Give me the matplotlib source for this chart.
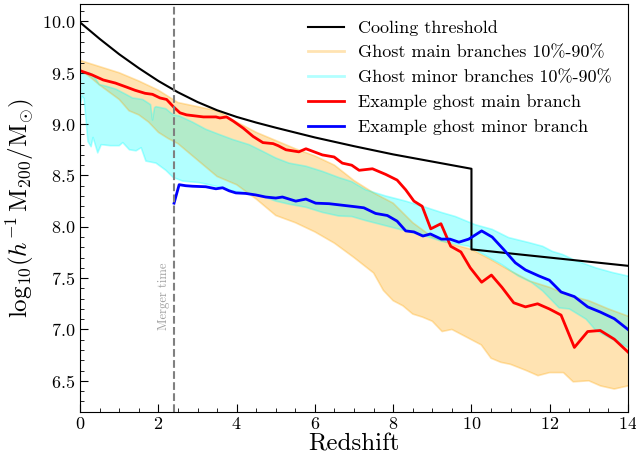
import matplotlib
matplotlib.use("Agg")
import matplotlib.pyplot as plt
from matplotlib.lines import Line2D
import numpy as np

plt.rcParams['font.family'] = 'serif'
plt.rcParams['font.serif'] = ['cmr10', 'DejaVu Serif']
plt.rcParams['mathtext.fontset'] = 'cm'
plt.rcParams['axes.formatter.use_mathtext'] = True

# --- DATA ---
# cooling threshold
z_cool = [0, 0.5, 1.0, 1.5, 2.0, 2.5, 3.0, 3.5, 4.0, 4.5, 5.0, 6.0, 7.0, 8.0, 9.0, 10.0, 10.0, 14.0]
m_cool = [9.99, 9.83, 9.68, 9.545, 9.42, 9.31, 9.215, 9.135, 9.07, 9.015, 8.965, 8.87, 8.785, 8.705, 8.635, 8.565, 7.78, 7.62]

# ghost main branches, 90% (upper) and 10% (lower)
z_main_hi = [0, 0.5, 1.0, 1.5, 2.0, 2.5, 3.0, 3.5, 4.0, 4.5, 5.0, 5.5, 6.0, 6.5, 7.0, 7.5,
             8.0, 8.5, 9.0, 9.5, 10.0, 10.5, 11.0, 11.5, 12.0, 12.5, 13.0, 13.5, 14.0]
m_main_hi = [9.62, 9.56, 9.50, 9.42, 9.33, 9.21, 9.17, 9.13, 9.02, 8.92, 8.84, 8.76, 8.69, 8.60, 8.45, 8.33,
             8.23, 8.04, 7.90, 7.83, 7.78, 7.68, 7.57, 7.47, 7.41, 7.33, 7.28, 7.20, 7.13]
z_main_lo = [0, 0.25, 0.5, 0.75, 1.0, 1.25, 1.5, 1.75, 2.0, 2.25, 2.5, 2.75, 3.0, 3.25, 3.5, 3.75, 4.0,
             4.5, 5.0, 5.5, 6.0, 6.5, 7.0, 7.5, 7.75, 8.0, 8.25, 8.5, 8.75, 9.0, 9.25, 9.5, 9.75, 10.0,
             10.25, 10.5, 10.75, 11.0, 11.4, 11.7, 12.0, 12.35, 12.6, 13.0, 13.3, 13.65, 14.0]
m_main_lo = [9.53, 9.46, 9.38, 9.31, 9.24, 9.13, 9.09, 9.02, 8.92, 8.86, 8.81, 8.73, 8.65, 8.57, 8.49, 8.45, 8.41,
             8.27, 8.11, 8.04, 7.95, 7.84, 7.70, 7.55, 7.38, 7.28, 7.23, 7.15, 7.12, 7.08, 6.98, 7.00, 6.95, 6.90,
             6.85, 6.72, 6.68, 6.66, 6.60, 6.55, 6.58, 6.58, 6.49, 6.50, 6.45, 6.42, 6.45]

# ghost minor branches, 90% (upper) and 10% (lower)
z_minor_hi = [0, 0.24, 0.35, 0.49, 0.66, 0.92, 1.17, 1.34, 1.6, 1.8, 1.85, 1.9, 1.94, 2.19, 2.38, 2.53, 2.87,
              3.21, 3.55, 3.9, 4.32, 4.64, 5.0, 5.34, 5.77, 6.19, 6.61, 6.94, 7.3, 7.81, 8.32, 8.83, 9.23,
              9.59, 10.1, 10.53, 10.95, 11.48, 11.82, 12.07, 12.33, 12.67, 13.18, 13.6, 14.0]
m_minor_hi = [9.50, 9.50, 9.47, 9.385, 9.37, 9.34, 9.29, 9.255, 9.24, 9.19, 9.04, 9.16, 9.17, 9.15, 9.09, 9.08, 9.02,
              8.95, 8.90, 8.85, 8.80, 8.74, 8.67, 8.62, 8.59, 8.54, 8.48, 8.44, 8.36, 8.30, 8.25, 8.19, 8.14,
              8.10, 8.02, 7.975, 7.895, 7.845, 7.81, 7.76, 7.73, 7.67, 7.60, 7.555, 7.52]
z_minor_lo = [0, 0.05, 0.1, 0.2, 0.28, 0.33, 0.45, 0.54, 0.77, 1.0, 1.09, 1.26, 1.43, 1.56, 1.68, 1.94, 2.19,
              2.38, 2.62, 3.04, 3.47, 3.9, 4.32, 4.64, 5.0, 5.34, 5.77, 6.19, 6.61, 6.94, 7.3, 7.81, 8.32,
              8.83, 9.23, 9.93, 10.36, 10.78, 11.2, 11.53, 11.82, 12.24, 12.5, 12.93, 13.18, 13.52, 14.0]
m_minor_lo = [9.17, 9.27, 9.25, 8.83, 8.78, 8.87, 8.72, 8.80, 8.79, 8.79, 8.82, 8.75, 8.74, 8.77, 8.64, 8.62, 8.55,
              8.48, 8.445, 8.43, 8.395, 8.35, 8.315, 8.30, 8.25, 8.22, 8.19, 8.14, 8.105, 8.10, 8.06, 8.01, 7.96,
              7.91, 7.86, 7.81, 7.72, 7.63, 7.52, 7.46, 7.375, 7.21, 7.20, 7.10, 6.99, 6.92, 6.825]

# example ghost main branch
z_red = [0, 0.3, 0.59, 0.9, 1.19, 1.4, 1.66, 1.85, 2.04, 2.21, 2.38, 2.55, 2.72, 3.15, 3.47, 3.57, 3.74, 3.91,
         4.17, 4.42, 4.67, 4.93, 5.06, 5.26, 5.59, 5.77, 6.19, 6.49, 6.7, 6.94, 7.13, 7.47, 7.81, 8.1, 8.32,
         8.53, 8.74, 8.96, 9.22, 9.47, 9.73, 9.97, 10.26, 10.51, 10.78, 11.08, 11.38, 11.69, 11.99, 12.29,
         12.63, 12.97, 13.29, 13.65, 14.0]
m_red = [9.52, 9.48, 9.43, 9.40, 9.36, 9.33, 9.30, 9.29, 9.255, 9.24, 9.17, 9.11, 9.09, 9.07, 9.07, 9.06, 9.07, 9.03,
         8.96, 8.88, 8.82, 8.81, 8.79, 8.75, 8.73, 8.76, 8.70, 8.68, 8.62, 8.60, 8.55, 8.565, 8.51, 8.455, 8.36,
         8.25, 8.20, 7.98, 8.03, 7.81, 7.755, 7.60, 7.46, 7.53, 7.41, 7.26, 7.22, 7.25, 7.20, 7.14,
         6.825, 6.98, 6.99, 6.905, 6.78]

# example ghost minor branch
z_blue = [2.4, 2.53, 2.7, 2.87, 3.21, 3.47, 3.64, 3.81, 3.98, 4.23, 4.49, 4.74, 5.0, 5.17, 5.51, 5.77, 6.02,
          6.36, 6.7, 7.04, 7.25, 7.55, 7.85, 8.1, 8.32, 8.53, 8.76, 8.95, 9.23, 9.45, 9.68, 9.93, 10.26,
          10.53, 10.82, 11.12, 11.38, 11.73, 11.99, 12.29, 12.63, 12.97, 13.29, 13.65, 14.0]
m_blue = [8.23, 8.41, 8.40, 8.395, 8.39, 8.37, 8.38, 8.35, 8.33, 8.325, 8.31, 8.29, 8.28, 8.29, 8.25, 8.27, 8.23,
          8.225, 8.21, 8.195, 8.185, 8.13, 8.11, 8.055, 7.96, 7.95, 7.91, 7.93, 7.88, 7.88, 7.85, 7.88, 7.96,
          7.90, 7.78, 7.65, 7.58, 7.52, 7.48, 7.365, 7.32, 7.22, 7.17, 7.105, 7.00]

z_merger = 2.4

# --- PLOTTING ---
fig = plt.figure(figsize=(6.36, 4.63), dpi=100)
ax = fig.add_axes([0.126, 0.111, 0.8614, 0.8804])

c_main = 'orange'
c_minor = 'cyan'

# bands as polygons (edges have their own redshift samples)
ax.fill(np.concatenate([z_main_hi, z_main_lo[::-1]]), np.concatenate([m_main_hi, m_main_lo[::-1]]),
        color=c_main, alpha=0.3, lw=0)
ax.plot(z_main_hi, m_main_hi, color=c_main, alpha=0.3, lw=1.2)
ax.plot(z_main_lo, m_main_lo, color=c_main, alpha=0.3, lw=1.2)

ax.fill(np.concatenate([z_minor_hi, z_minor_lo[::-1]]), np.concatenate([m_minor_hi, m_minor_lo[::-1]]),
        color=c_minor, alpha=0.3, lw=0)
ax.plot(z_minor_hi, m_minor_hi, color=c_minor, alpha=0.3, lw=1.2)
ax.plot(z_minor_lo, m_minor_lo, color=c_minor, alpha=0.3, lw=1.2)

ax.plot(z_cool, m_cool, color='black', lw=1.5)
ax.plot(z_red, m_red, color='red', lw=2)
ax.plot(z_blue, m_blue, color='blue', lw=2)

ax.axvline(z_merger, color='gray', ls='--', lw=1.5)
ax.text(z_merger - 0.27, 7.32, 'Merger time', rotation=90, color='#a0a0a0',
        fontsize=9, ha='center', va='center')

handles = [Line2D([], [], color='black', lw=1.5),
           Line2D([], [], color=c_main, alpha=0.3, lw=2),
           Line2D([], [], color=c_minor, alpha=0.3, lw=2),
           Line2D([], [], color='red', lw=2),
           Line2D([], [], color='blue', lw=2)]
labels = ['Cooling threshold', 'Ghost main branches 10%-90%', 'Ghost minor branches 10%-90%',
          'Example ghost main branch', 'Example ghost minor branch']
ax.legend(handles, labels, loc='upper right', frameon=False, fontsize=13)

ax.set_xlim(0, 14)
ax.set_ylim(6.2, 10.17)
ax.set_xlabel('Redshift', fontsize=18, labelpad=1)
ax.set_ylabel(r'$\mathrm{log}_{10}(h^{-1}\,\mathrm{M}_{200}/\mathrm{M}_{\odot})$', fontsize=18)
ax.set_xticks(np.arange(0, 15, 2))
ax.set_yticks(np.arange(6.5, 10.01, 0.5))
ax.xaxis.set_minor_locator(matplotlib.ticker.MultipleLocator(0.5))
ax.yaxis.set_minor_locator(matplotlib.ticker.MultipleLocator(0.1))
ax.tick_params(which='both', direction='in', labelsize=13)
ax.tick_params(which='major', length=6)
ax.tick_params(which='minor', length=3)

fig.savefig('out.png', dpi=100)
